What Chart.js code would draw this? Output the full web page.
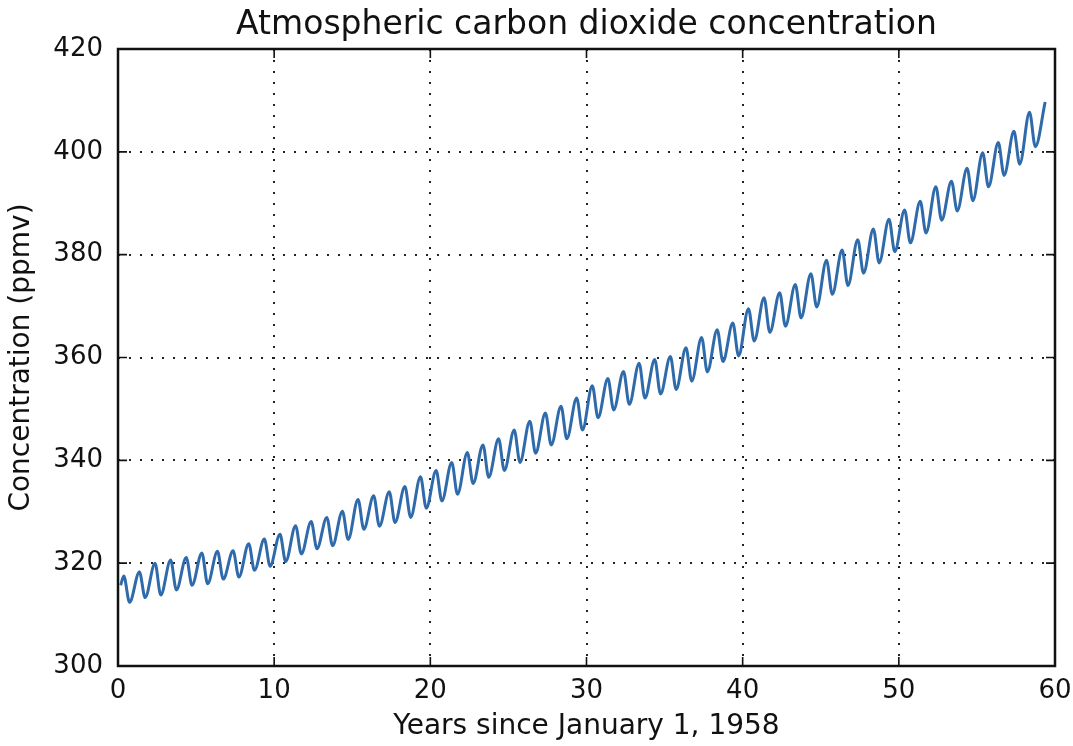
<!DOCTYPE html>
<html>
<head>
<meta charset="utf-8">
<script src="https://cdn.jsdelivr.net/npm/chart.js@4.4.0/dist/chart.umd.min.js"></script>
<style>
  html, body { margin: 0; padding: 0; background: #fff; }
  #wrap { width: 1073px; height: 746px; }
</style>
</head>
<body>
<div id="wrap"><canvas id="myChart" width="1073" height="746"></canvas></div>
<script>
// years since Jan 1 1958, one entry per year
var years = [0,1,2,3,4,5,6,7,8,9,10,11,12,13,14,15,16,17,18,19,
             20,21,22,23,24,25,26,27,28,29,30,31,32,33,34,35,36,37,38,39,
             40,41,42,43,44,45,46,47,48,49,50,51,52,53,54,55,56,57,58,59];
// spring maximum of each year (ppmv)
var peaks = [317.5,318.3,320.0,320.6,321.1,322.0,322.3,322.4,323.8,324.7,
             325.6,327.3,328.1,328.9,330.1,332.4,333.1,333.9,334.9,336.8,
             338.0,339.6,341.5,343.0,344.2,345.9,347.6,349.2,350.5,352.1,
             354.5,355.9,357.3,358.9,359.6,360.2,361.9,363.9,365.4,366.7,
             369.5,371.6,372.6,374.2,376.3,378.9,380.9,382.9,385.0,386.9,
             388.7,390.4,393.2,394.3,396.8,399.8,401.8,404.0,407.7,409.7];
// autumn minimum of each year (ppmv); last year has none yet
var troughs = [312.4,313.3,313.8,314.8,315.7,316.0,316.9,317.3,318.6,319.4,
               320.3,321.8,322.8,323.4,324.6,326.6,327.2,327.9,328.9,330.7,
               332.1,333.4,335.5,336.7,338.0,339.6,341.4,343.0,344.2,345.9,
               348.3,349.8,350.9,352.1,352.9,353.8,355.4,357.2,359.2,360.3,
               363.2,364.9,366.1,367.7,369.8,372.3,374.0,376.4,378.4,380.6,
               382.3,384.2,386.7,388.5,390.5,393.2,395.4,397.6,401.0,null];
var firstValue = 315.7;   // March 1958
var firstTime = 0.17;
var peakTime = 0.37;      // mid May
var troughTime = 0.74;    // late Sep / early Oct

var xTicks = [0, 10, 20, 30, 40, 50, 60];
var yTicks = [300, 320, 340, 360, 380, 400, 420];
var titleText = "Atmospheric carbon dioxide concentration";

var points = [{ x: firstTime, y: firstValue }];
years.forEach(function (yr, i) {
    points.push({ x: yr + peakTime, y: peaks[i] });
    if (troughs[i] !== null) points.push({ x: yr + troughTime, y: troughs[i] });
});

var FONT = "'DejaVu Sans', sans-serif";

// box around the axes, inward tick marks and a title centred on the axes
var frame = {
    id: "frame",
    afterDraw: function (chart) {
        var ctx = chart.ctx, a = chart.chartArea;
        var xs = chart.scales.x, ys = chart.scales.y;
        ctx.save();
        ctx.strokeStyle = "#111";
        ctx.lineWidth = 1.6;
        xTicks.forEach(function (v) {
            var px = xs.getPixelForValue(v);
            ctx.beginPath();
            ctx.moveTo(px, a.bottom); ctx.lineTo(px, a.bottom - 9);
            ctx.moveTo(px, a.top); ctx.lineTo(px, a.top + 9);
            ctx.stroke();
        });
        yTicks.forEach(function (v) {
            var py = ys.getPixelForValue(v);
            ctx.beginPath();
            ctx.moveTo(a.left, py); ctx.lineTo(a.left + 9, py);
            ctx.moveTo(a.right, py); ctx.lineTo(a.right - 9, py);
            ctx.stroke();
        });
        ctx.lineWidth = 2.5;
        ctx.strokeRect(a.left, a.top, a.right - a.left, a.bottom - a.top);

        ctx.fillStyle = "#111";
        ctx.font = "33px " + FONT;
        ctx.textAlign = "center";
        ctx.textBaseline = "alphabetic";
        ctx.fillText(titleText, (a.left + a.right) / 2, 34);
        ctx.restore();
    }
};

var config = {
    type: "line",
    data: {
        datasets: [{
            data: points,
            borderColor: "#2f6aab",
            borderWidth: 3,
            pointRadius: 0,
            cubicInterpolationMode: "monotone",
            borderJoinStyle: "round",
            fill: false
        }]
    },
    options: {
        responsive: false,
        animation: false,
        devicePixelRatio: 1,
        layout: { padding: { left: 0, right: 18, top: 49, bottom: 0 } },
        plugins: {
            legend: { display: false },
            tooltip: { enabled: false },
            title: { display: false }
        },
        scales: {
            x: {
                type: "linear",
                min: 0, max: 60,
                afterBuildTicks: function (s) { s.ticks = xTicks.map(function (v) { return { value: v }; }); },
                afterFit: function (s) { s.height = 80; s.paddingRight = 0; s.paddingLeft = 0; },
                grid: { color: "#222", lineWidth: 2, drawTicks: false },
                border: { display: false, dash: [2, 9] },
                ticks: { color: "#111", font: { family: FONT, size: 26 }, padding: 10, maxRotation: 0 },
                title: {
                    display: true, text: "Years since January 1, 1958", color: "#111",
                    font: { family: FONT, size: 28 }, padding: { top: 0, bottom: 2 }
                }
            },
            y: {
                min: 300, max: 420,
                afterBuildTicks: function (s) { s.ticks = yTicks.map(function (v) { return { value: v }; }); },
                afterFit: function (s) { s.width = 118; },
                grid: { color: "#222", lineWidth: 2, drawTicks: false },
                border: { display: false, dash: [2, 9] },
                ticks: { color: "#111", font: { family: FONT, size: 26 }, padding: 15 },
                title: {
                    display: true, text: "Concentration (ppmv)", color: "#111",
                    font: { family: FONT, size: 28 }, padding: { top: 5, bottom: 0 }
                }
            }
        }
    },
    plugins: [frame]
};

var ctx = document.getElementById("myChart");
window.co2Chart = new Chart(ctx, config);
</script>
</body>
</html>
